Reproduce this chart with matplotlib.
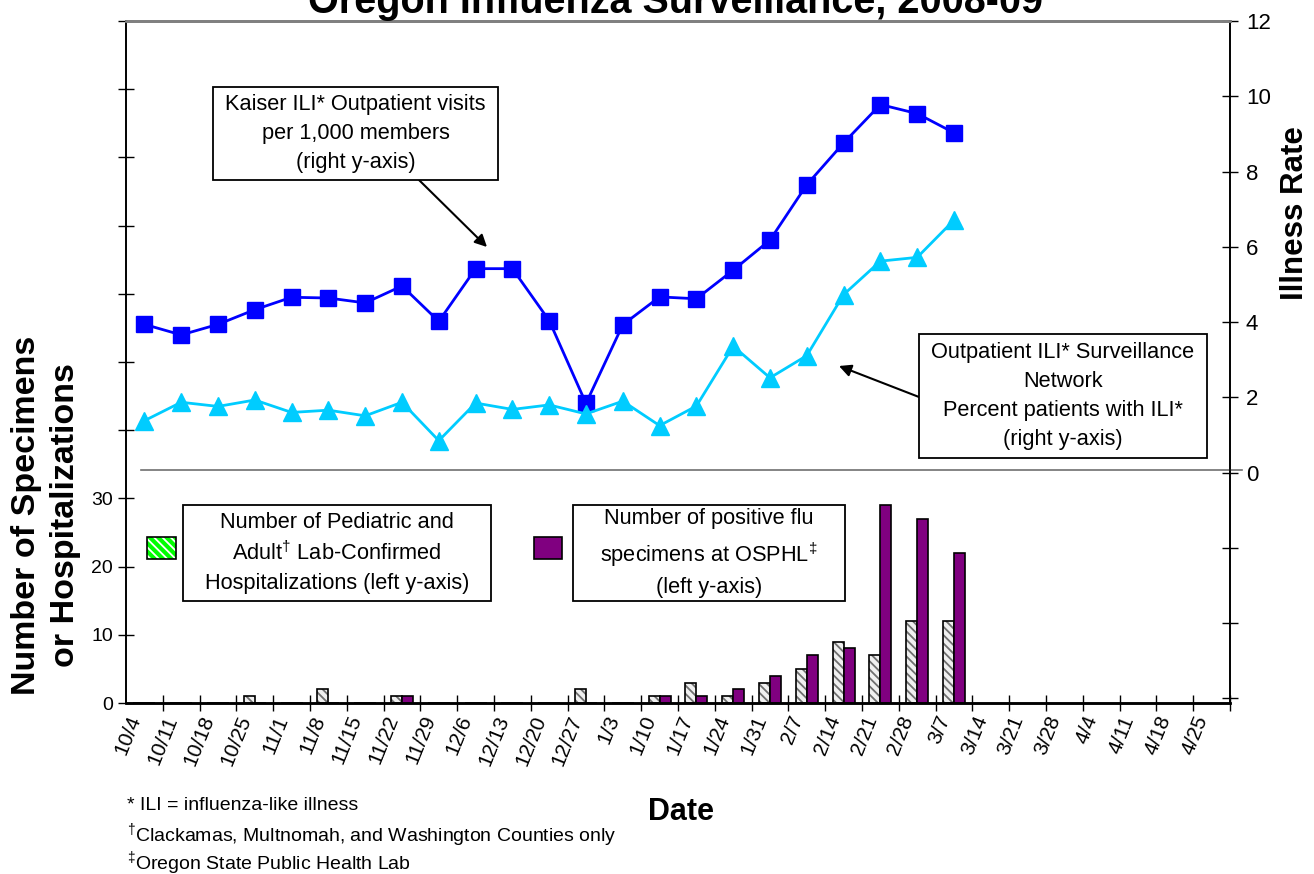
import numpy as np
import matplotlib
matplotlib.use('Agg')
import matplotlib.pyplot as plt
from matplotlib.patches import Rectangle

plt.rcParams['font.family'] = ['Liberation Sans', 'DejaVu Sans']
plt.rcParams['mathtext.fontset'] = 'custom'
plt.rcParams['mathtext.rm'] = 'Liberation Sans'
plt.rcParams['hatch.linewidth'] = 1.3

# week labels (x axis)
weeks = ['10/4', '10/11', '10/18', '10/25', '11/1', '11/8', '11/15', '11/22', '11/29',
         '12/6', '12/13', '12/20', '12/27', '1/3', '1/10', '1/17', '1/24', '1/31',
         '2/7', '2/14', '2/21', '2/28', '3/7', '3/14', '3/21', '3/28', '4/4', '4/11',
         '4/18', '4/25']

# left axis: counts (through 3/7)
hosp = [0, 0, 0, 1, 0, 2, 0, 1, 0, 0, 0, 0, 2, 0, 1, 3, 1, 3, 5, 9, 7, 12, 12]
osphl = [0, 0, 0, 0, 0, 0, 0, 1, 0, 0, 0, 0, 0, 0, 1, 1, 2, 4, 7, 8, 29, 27, 22]

# right axis: rates
kaiser = [3.94, 3.66, 3.94, 4.33, 4.66, 4.64, 4.51, 4.96, 4.02, 5.42, 5.42, 4.04, 1.84,
          3.93, 4.67, 4.62, 5.38, 6.18, 7.65, 8.76, 9.78, 9.54, 9.03]
ili_net = [1.38, 1.87, 1.76, 1.93, 1.60, 1.66, 1.51, 1.87, 0.85, 1.85, 1.68, 1.80, 1.56,
           1.90, 1.25, 1.77, 3.36, 2.52, 3.11, 4.73, 5.62, 5.72, 6.71]

W, H = 1314, 874
fig = plt.figure(figsize=(W / 100, H / 100), dpi=100)

def fx(px):
    return px / W

def fy(py):
    return 1 - py / H

ax = fig.add_axes([fx(126), fy(703), fx(1104), 682 / H])
ax2 = ax.twinx()

n = len(weeks)
x = np.arange(len(hosp))
bw = 0.3

# hatched gray bars: fill+hatch, then black outline
ax.bar(x - bw / 2, hosp, bw, color='#f0f0f0', edgecolor='#6f6f6f', hatch='\\\\\\\\', lw=0, zorder=2)
ax.bar(x - bw / 2, hosp, bw, fill=False, edgecolor='black', lw=1.2, zorder=3)
ax.bar(x + bw / 2, osphl, bw, color='#800080', edgecolor='black', lw=1.2, zorder=3)

ax.set_xlim(-0.5, n - 0.5)
ax.set_ylim(0, 100)
ax.set_yticks(np.arange(0, 101, 10))
ax.set_yticklabels([str(v) if v <= 30 else '' for v in range(0, 101, 10)], fontsize=14)
ax.set_xticks(np.arange(n))
ax.set_xticklabels(weeks, rotation=68, ha='right', va='top', fontsize=15)
ax.set_xticks(np.arange(n) + 0.5, minor=True)
ax.tick_params(axis='x', which='major', length=0, pad=7)
ax.tick_params(axis='x', which='minor', direction='inout', length=12, width=1)
ax.tick_params(axis='y', direction='inout', length=11, width=1, pad=4)

ax2.plot(x, kaiser, color='#0000ff', marker='s', ms=12, lw=2, zorder=4)
ax2.plot(x, ili_net, color='#00ccff', marker='^', ms=13, lw=2, zorder=4)
ax2.set_ylim(-6.12, 12)
ax2.set_yticks(np.arange(-6, 13, 2))
ax2.set_yticklabels([str(v) if v >= 0 else '' for v in range(-6, 13, 2)], fontsize=16)
ax2.tick_params(axis='y', direction='inout', length=11, width=1, pad=6)
ax2.axhline(0.08, xmin=0.0136, xmax=1.011, color='#707070', lw=1.2, clip_on=False)

for a in (ax, ax2):
    a.spines['top'].set_color('#808080')
    a.spines['top'].set_linewidth(2)
    a.spines['left'].set_linewidth(1.2)
    a.spines['right'].set_linewidth(1.2)
    a.spines['bottom'].set_linewidth(1.8)
    a.patch.set_visible(False)

# title (cut off at top)
fig.text(fx(675), fy(13), 'Oregon Influenza Surveillance, 2008-09', ha='center',
         va='baseline', fontsize=28.5, fontweight='bold')
fig.text(fx(1295), fy(213), 'Illness Rate', rotation=90, ha='center', va='center',
         fontsize=22.5, fontweight='bold')
fig.text(fx(46), fy(515), 'Number of Specimens\nor Hospitalizations', rotation=90,
         ha='center', va='center', fontsize=24.5, fontweight='bold', linespacing=1.3)
fig.text(fx(681), fy(812), 'Date', ha='center', va='center', fontsize=22, fontweight='bold')

# footnotes
fig.text(fx(127), fy(805), '* ILI = influenza-like illness', fontsize=14, va='center')
fig.text(fx(127), fy(836), r'$^{\dagger}$Clackamas, Multnomah, and Washington Counties only',
         fontsize=14, va='center')
fig.text(fx(127), fy(864), r'$^{\ddagger}$Oregon State Public Health Lab', fontsize=14, va='center')

def box(x0, y0, x1, y1, lines):
    fig.patches.append(Rectangle((fx(x0), fy(y1)), fx(x1 - x0), (y1 - y0) / H,
                                 transform=fig.transFigure, facecolor='white',
                                 edgecolor='black', lw=1.3, zorder=5))
    fig.text(fx((x0 + x1) / 2), fy((y0 + y1) / 2), lines, ha='center',
             va='center', fontsize=15.7, linespacing=1.5, zorder=6)

# line annotations
box(213, 87, 498, 180, 'Kaiser ILI* Outpatient visits\nper 1,000 members\n(right y-axis)')
box(919, 334, 1207, 458,
    'Outpatient ILI* Surveillance\nNetwork\nPercent patients with ILI*\n(right y-axis)')
fig.add_artist(plt.Annotation('', xy=(fx(487), fy(247)), xytext=(fx(419), fy(180)),
                              xycoords='figure fraction', textcoords='figure fraction',
                              arrowprops=dict(arrowstyle='-|>', color='black', lw=1.5,
                                              mutation_scale=18, shrinkA=0, shrinkB=0)))
fig.add_artist(plt.Annotation('', xy=(fx(839), fy(366)), xytext=(fx(919), fy(397)),
                              xycoords='figure fraction', textcoords='figure fraction',
                              arrowprops=dict(arrowstyle='-|>', color='black', lw=1.5,
                                              mutation_scale=18, shrinkA=0, shrinkB=0)))

# bar legends
box(183, 505, 491, 601,
    'Number of Pediatric and\nAdult$^{\\dagger}$ Lab-Confirmed\nHospitalizations (left y-axis)')
box(573, 505, 845, 601,
    'Number of positive flu\nspecimens at OSPHL$^{\\ddagger}$\n(left y-axis)')
fig.patches.append(Rectangle((fx(147), fy(559)), fx(29), 22 / H, transform=fig.transFigure,
                             facecolor='#00ff00', edgecolor='white', hatch='\\\\\\\\',
                             lw=0, zorder=5))
fig.patches.append(Rectangle((fx(147), fy(559)), fx(29), 22 / H, transform=fig.transFigure,
                             fill=False, edgecolor='black', lw=1.2, zorder=6))
fig.patches.append(Rectangle((fx(534), fy(559)), fx(28), 22 / H, transform=fig.transFigure,
                             facecolor='#800080', edgecolor='black', lw=1.2, zorder=5))

fig.savefig('out.png', dpi=100)
